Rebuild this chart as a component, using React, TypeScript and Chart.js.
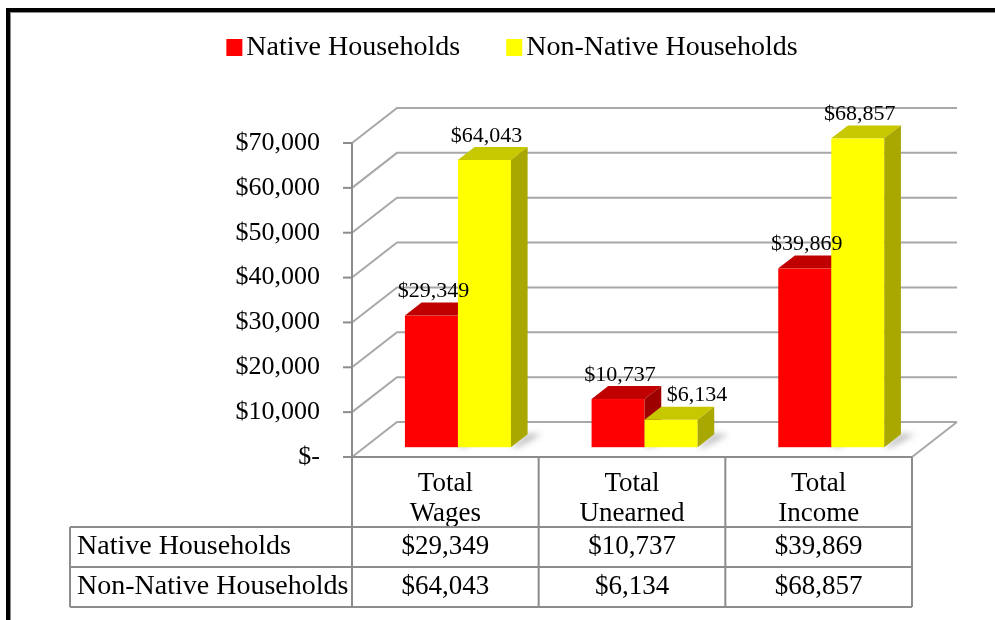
import React, { useEffect, useRef } from 'react';
import { Chart, registerables } from 'chart.js';

Chart.register(...registerables);

// ---- data ----
const categories: string[][] = [['Total', 'Wages'], ['Total', 'Unearned'], ['Total', 'Income']];
const seriesLabels = ['Native Households', 'Non-Native Households'];
const nativeHouseholds = [29349, 10737, 39869];
const nonNativeHouseholds = [64043, 6134, 68857];
const yMin = 0;
const yMax = 70000;
const yStep = 10000;

// ---- styles / layout ----
const FRONT_COLORS = ['#FF0000', '#FFFF00'];
const TOP_COLORS = ['#C00000', '#C8C800'];
const SIDE_COLORS = ['#9E0000', '#A8A800'];
const FONT = "'Liberation Serif', 'Times New Roman', serif";
const W = 995;
const H = 620;
const AREA_LEFT = 352;
const AREA_RIGHT = 912;
const AREA_TOP = 143;
const AREA_BOTTOM = 457;
const DX = 45;
const DY = -35;
const BAR_FRONT = 0.28;
const BAR_DEPTH = 0.37;
const TABLE_LEFT = 70;
const ROW_LINES = [527, 567, 607];
const GRID_COLOR = '#a8a8a8';
const TABLE_COLOR = '#8c8c8c';

const fmt = (v: number) => (v === 0 ? '$-' : '$' + v.toLocaleString('en-US'));

const threeD = {
  id: 'threeD',
  beforeDatasetsDraw(chart: any) {
    const ctx = chart.ctx;
    const { left, right, bottom } = chart.chartArea;
    const ys = chart.scales.y;
    ctx.save();
    ctx.lineWidth = 2;
    ctx.strokeStyle = GRID_COLOR;
    ctx.lineJoin = 'miter';
    ys.ticks.forEach((t: any) => {
      const y = ys.getPixelForValue(t.value);
      ctx.beginPath();
      ctx.moveTo(left, y);
      ctx.lineTo(left + DX, y + DY);
      ctx.lineTo(right + DX, y + DY);
      ctx.stroke();
    });
    // floor right edge
    ctx.beginPath();
    ctx.moveTo(right, bottom);
    ctx.lineTo(right + DX, bottom + DY);
    ctx.stroke();
    // axis + ticks
    ctx.strokeStyle = TABLE_COLOR;
    ctx.beginPath();
    ctx.moveTo(left, ys.getPixelForValue(yMax));
    ctx.lineTo(left, bottom);
    ctx.stroke();
    ys.ticks.forEach((t: any) => {
      const y = ys.getPixelForValue(t.value);
      ctx.beginPath();
      ctx.moveTo(left - 9, y);
      ctx.lineTo(left, y);
      ctx.stroke();
    });
    ctx.restore();
  },
  beforeDatasetDraw() {
    return false;
  },
  afterDatasetsDraw(chart: any) {
    const ctx = chart.ctx;
    const offX = BAR_FRONT * DX;
    const offY = BAR_FRONT * DY;
    const bdx = BAR_DEPTH * DX;
    const bdy = BAR_DEPTH * DY;
    const n = chart.data.datasets.length;
    const bars: any[] = [];
    for (let d = 0; d < n; d++) {
      const meta = chart.getDatasetMeta(d);
      meta.data.forEach((el: any, i: number) => {
        const p = el.getProps(['x', 'y', 'base', 'width'], true);
        bars.push({
          d,
          i,
          L: p.x - p.width / 2 + offX,
          R: p.x + p.width / 2 + offX,
          T: p.y + offY,
          B: p.base + offY,
          cx: p.x + offX,
          v: chart.data.datasets[d].data[i],
        });
      });
    }
    ctx.save();
    // shadows
    ctx.filter = 'blur(3px)';
    ctx.fillStyle = 'rgba(120,120,120,0.55)';
    bars.forEach((b) => {
      ctx.beginPath();
      ctx.moveTo(b.R, b.B);
      ctx.lineTo(b.R + bdx, b.B + bdy);
      ctx.lineTo(b.R + bdx + 14, b.B + bdy);
      ctx.lineTo(b.R + 6, b.B);
      ctx.closePath();
      ctx.fill();
    });
    ctx.filter = 'none';
    // bars, per category, series in order
    const cats = chart.data.labels.length;
    for (let i = 0; i < cats; i++) {
      for (let d = 0; d < n; d++) {
        const b = bars.find((x) => x.d === d && x.i === i);
        if (!b) continue;
        ctx.fillStyle = FRONT_COLORS[d];
        ctx.fillRect(b.L, b.T, b.R - b.L, b.B - b.T);
        ctx.fillStyle = TOP_COLORS[d];
        ctx.beginPath();
        ctx.moveTo(b.L, b.T);
        ctx.lineTo(b.L + bdx, b.T + bdy);
        ctx.lineTo(b.R + bdx, b.T + bdy);
        ctx.lineTo(b.R, b.T);
        ctx.closePath();
        ctx.fill();
        ctx.fillStyle = SIDE_COLORS[d];
        ctx.beginPath();
        ctx.moveTo(b.R, b.T);
        ctx.lineTo(b.R + bdx, b.T + bdy);
        ctx.lineTo(b.R + bdx, b.B + bdy);
        ctx.lineTo(b.R, b.B);
        ctx.closePath();
        ctx.fill();
      }
    }
    // data labels
    ctx.font = `22px ${FONT}`;
    ctx.fillStyle = '#000';
    ctx.textBaseline = 'middle';
    ctx.textAlign = 'left';
    const placed: any[] = [];
    for (let i = 0; i < cats; i++) {
      for (let d = 0; d < n; d++) {
        const b = bars.find((x) => x.d === d && x.i === i);
        if (!b) continue;
        const text = fmt(b.v);
        const w = ctx.measureText(text).width;
        let x0 = b.cx - w / 2 + 2;
        const y = b.T - 24;
        placed.forEach((r) => {
          const overlapX = x0 < r.x1 && x0 + w > r.x0;
          const overlapY = Math.abs(y - r.y) < 24;
          if (overlapX && overlapY) x0 = r.x1 + 11;
        });
        ctx.fillText(text, x0, y);
        placed.push({ x0, x1: x0 + w, y });
      }
    }
    ctx.restore();
  },
  afterDraw(chart: any) {
    const ctx = chart.ctx;
    const { left, right, bottom } = chart.chartArea;
    const xs = chart.scales.x;
    const n = chart.data.labels.length;
    ctx.save();
    // table lines
    ctx.strokeStyle = TABLE_COLOR;
    ctx.lineWidth = 2;
    ctx.beginPath();
    ctx.moveTo(left, bottom);
    ctx.lineTo(right, bottom);
    ROW_LINES.forEach((y) => {
      ctx.moveTo(TABLE_LEFT, y);
      ctx.lineTo(right, y);
    });
    ctx.moveTo(TABLE_LEFT, ROW_LINES[0]);
    ctx.lineTo(TABLE_LEFT, ROW_LINES[ROW_LINES.length - 1]);
    for (let k = 0; k <= n; k++) {
      const x = left + (k * (right - left)) / n;
      ctx.moveTo(x, bottom);
      ctx.lineTo(x, ROW_LINES[ROW_LINES.length - 1]);
    }
    ctx.stroke();
    // table text
    ctx.fillStyle = '#000';
    ctx.textBaseline = 'middle';
    chart.data.datasets.forEach((ds: any, d: number) => {
      const yc = (ROW_LINES[d] + ROW_LINES[d + 1]) / 2;
      ctx.font = `28px ${FONT}`;
      ctx.textAlign = 'left';
      ctx.fillText(ds.label, TABLE_LEFT + 7, yc);
      ctx.font = `27px ${FONT}`;
      ctx.textAlign = 'center';
      ds.data.forEach((v: number, i: number) => {
        ctx.fillText(fmt(v), xs.getPixelForValue(i), yc);
      });
    });
    // legend
    ctx.font = `28px ${FONT}`;
    const boxW = 16;
    const gapBox = 4;
    const gapItem = 46;
    const widths = chart.data.datasets.map((ds: any) => ctx.measureText(ds.label).width);
    const total = widths.reduce((a: number, w: number) => a + boxW + gapBox + w, 0) + gapItem * (widths.length - 1);
    let x = 512 - total / 2;
    const ly = 48;
    ctx.textAlign = 'left';
    chart.data.datasets.forEach((ds: any, d: number) => {
      ctx.fillStyle = FRONT_COLORS[d];
      ctx.fillRect(x, ly - 9, boxW, 17);
      ctx.fillStyle = '#000';
      ctx.fillText(ds.label, x + boxW + gapBox, ly);
      x += boxW + gapBox + widths[d] + gapItem;
    });
    // frame
    ctx.fillStyle = '#000';
    ctx.fillRect(6, 8, 4, H - 8);
    ctx.fillRect(6, 8, W - 6, 4);
    ctx.fillStyle = '#8a8a8a';
    ctx.fillRect(10, 12, W - 10, 1);
    ctx.fillRect(10, 12, 1, H - 12);
    ctx.restore();
  },
};

export default function App() {
  const ref = useRef<HTMLCanvasElement | null>(null);
  useEffect(() => {
    if (!ref.current) return;
    const chart = new Chart(ref.current, {
      type: 'bar',
      data: {
        labels: categories,
        datasets: [
          { label: seriesLabels[0], data: nativeHouseholds, backgroundColor: FRONT_COLORS[0], borderWidth: 0, categoryPercentage: 0.568, barPercentage: 1 },
          { label: seriesLabels[1], data: nonNativeHouseholds, backgroundColor: FRONT_COLORS[1], borderWidth: 0, categoryPercentage: 0.568, barPercentage: 1 },
        ],
      },
      options: {
        responsive: false,
        animation: false,
        devicePixelRatio: 1,
        layout: { padding: { top: AREA_TOP, right: W - AREA_RIGHT, left: 0, bottom: 0 } },
        plugins: { legend: { display: false }, tooltip: { enabled: false } },
        scales: {
          x: {
            type: 'category',
            grid: { display: false, drawTicks: false },
            border: { display: false },
            ticks: {
              font: { family: FONT, size: 27, lineHeight: 30 / 27 },
              color: '#000',
              padding: 12,
              maxRotation: 0,
              autoSkip: false,
            },
            afterFit: (s: any) => {
              s.height = H - AREA_BOTTOM;
            },
          },
          y: {
            min: yMin,
            max: yMax,
            grid: { display: false, drawTicks: false },
            border: { display: false },
            ticks: {
              stepSize: yStep,
              callback: (v: any) => fmt(Number(v)),
              font: { family: FONT, size: 26 },
              color: '#000',
              padding: 32,
            },
            afterFit: (s: any) => {
              s.width = AREA_LEFT;
            },
          },
        },
      } as any,
      plugins: [threeD],
    });
    return () => chart.destroy();
  }, []);
  return (
    <div style={{ position: 'fixed', left: 0, top: 0, width: W, height: H, background: '#fff' }}>
      <canvas ref={ref} width={W} height={H} style={{ display: 'block', width: W, height: H }} />
    </div>
  );
}
